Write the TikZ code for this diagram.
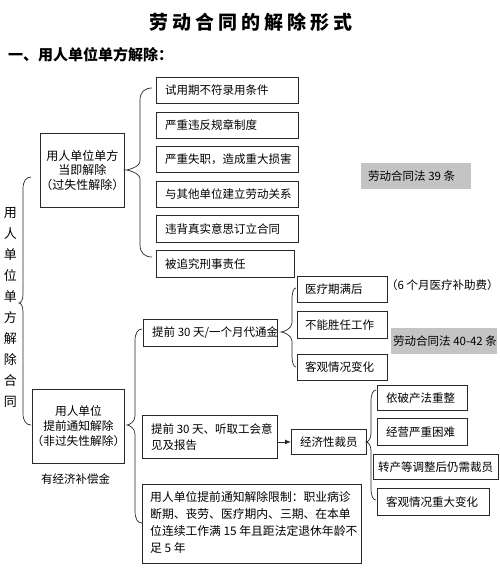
\documentclass[tikz,border=0pt]{standalone}
\usepackage{fontspec}
\newfontfamily\cjk{Noto Sans CJK SC}
\usetikzlibrary{arrows.meta}
\definecolor{lawgray}{RGB}{196,196,196}
\definecolor{lineblk}{RGB}{40,40,40}
\tikzset{
  boxst/.style={draw=lineblk, line width=0.9pt, inner sep=0pt, anchor=north west},
  graybox/.style={fill=lawgray, draw=none, inner sep=0pt, anchor=north west},
  txt/.style={font=\cjk\fontsize{11.5}{15}\selectfont, inner sep=0pt, align=left, text=black},
  bracestyle/.style={draw=lineblk, line width=0.7pt},
}
% name, x1, y1, x2, y2, pad, text
\newcommand\mkbox[8][boxst]{%
  \node[#1, minimum width={#5-#3}, minimum height={#6-#4}] (#2) at (#3,#4) {};
  \node[txt, anchor=west] (#2t) at ([xshift=#7]#2.west) {#8};}
% xe, xm, xt, ytop, ytip, ybot
\newcommand\mybrace[6]{%
  \draw[bracestyle] (#1,#4) .. controls ({#2+0.4*(#1-#2)},{#4}) and ({#2},{#4+4}) .. ({#2},{#4+12})
    -- ({#2},{#5-9})
    .. controls ({#2},{#5-3}) and ({#3+2},{#5}) .. ({#3},{#5})
    .. controls ({#3+2},{#5}) and ({#2},{#5+3}) .. ({#2},{#5+9})
    -- ({#2},{#6-12})
    .. controls ({#2},{#6-4}) and ({#2+0.4*(#1-#2)},{#6}) .. ({#1},{#6});}
\begin{document}
\begin{tikzpicture}[x=1pt,y=-1pt]
\useasboundingbox[fill=white] (0,0) rectangle (500,571);

% title and heading
\node[font=\cjk\fontsize{19}{22}\selectfont\bfseries, inner sep=0pt] (title) at (251,22)
  {劳\hspace{4pt}动\hspace{4pt}合\hspace{4pt}同\hspace{4pt}的\hspace{4pt}解\hspace{4pt}除\hspace{4pt}形\hspace{4pt}式};
\node[font=\cjk\fontsize{15}{18}\selectfont\bfseries, inner sep=0pt, anchor=west] (head) at (8,55)
  {一、用人单位单方解除：};

% vertical text
\node[font=\cjk\fontsize{13}{21}\selectfont, align=center, inner sep=0pt] (vt) at (10.5,308)
  {用\\人\\单\\位\\单\\方\\解\\除\\合\\同};

% left boxes
\node[boxst, minimum width=84, minimum height=74] (L1) at (40,133) {};
\node[txt, font=\cjk\fontsize{12}{14.7}\selectfont, align=center] (L1t) at (L1.center)
  {用人单位单方\\当即解除\\（过失性解除）};
\node[boxst, minimum width=92, minimum height=74] (L2) at (32,389) {};
\node[txt, font=\cjk\fontsize{11.7}{15}\selectfont, align=center] (L2t) at ([yshift=0.5]L2.center)
  {用人单位\\提前通知解除\\（非过失性解除）};
\node[txt, anchor=west] (comp) at (41,479) {有经济补偿金};

% group 1 items
\mkbox{b1}{156}{77}{298}{103}{9}{试用期不符录用条件}
\mkbox{b2}{156}{112}{298}{138}{9}{严重违反规章制度}
\mkbox{b3}{156}{146}{298}{172}{9}{严重失职，造成重大损害}
\mkbox{b4}{156}{181}{298}{207}{9}{与其他单位建立劳动关系}
\mkbox{b5}{156}{215}{298}{242}{9}{违背真实意思订立合同}
\mkbox{b6}{156}{250}{294}{277}{9}{被追究刑事责任}

% law boxes
\mkbox[graybox]{g1}{361}{163}{471}{189}{7}{劳动合同法 39 条}
\mkbox[graybox]{g2}{391}{328}{497}{354}{2}{劳动合同法 40-42 条}

% group 2
\mkbox{c1}{143}{319}{277}{346}{9}{提前 30 天/一个月代通金}
\mkbox{m1}{297}{276}{387}{302}{8}{医疗期满后}
\mkbox{m2}{297}{311}{387}{338}{8}{不能胜任工作}
\mkbox{m3}{297}{354}{387}{380}{8}{客观情况变化}
\node[txt, anchor=west] (sub) at (386,285) {（6 个月医疗补助费）};

\node[boxst, minimum width=135, minimum height=43] (c2) at (142,415) {};
\node[txt, font=\cjk\fontsize{11.5}{16}\selectfont, anchor=west] (c2t) at ([xshift=9]c2.west)
  {提前 30 天、听取工会意\\见及报告};
\mkbox{e0}{291}{429}{366}{454}{9}{经济性裁员}
\draw[line width=0.9pt, draw=lineblk, -{Latex[length=6pt,width=5pt]}] (c2.east |- e0.west) -- (e0.west);

\mkbox{r1}{377}{385}{467}{410}{9}{依破产法重整}
\mkbox{r2}{377}{418}{467}{445}{9}{经营严重困难}
\mkbox{r3}{373}{454}{498}{479}{5}{转产等调整后仍需裁员}
\mkbox{r4}{377}{488}{489}{515}{9}{客观情况重大变化}

\node[boxst, minimum width=219, minimum height=79] (c3) at (142,484) {};
\node[txt, font=\cjk\fontsize{11.8}{17}\selectfont, anchor=west] (c3t) at ([xshift=8,yshift=1]c3.west)
  {用人单位提前通知解除限制：职业病诊\\断期、丧劳、医疗期内、三期、在本单\\位连续工作满 15 年且距法定退休年龄不\\足 5 年};

% braces
\mybrace{31}{23}{19}{177}{303}{425}
\mybrace{152}{140}{126}{88}{170}{257}
\mybrace{142}{135}{127}{329}{425}{523}
\mybrace{296}{292}{281}{288}{332}{367}
\mybrace{376}{371}{366}{390}{442}{500}
\end{tikzpicture}
\end{document}
